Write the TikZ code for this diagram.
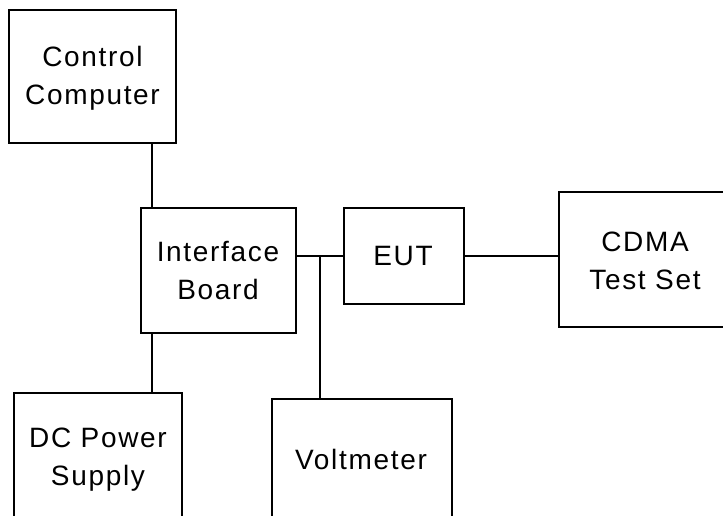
\documentclass[tikz,border=0pt]{standalone}
\usepackage{fontspec}
\setmainfont{Liberation Sans}[LetterSpace=6]
\begin{document}
\begin{tikzpicture}[x=1pt,y=-1pt,
  blk/.style={draw=black,line width=1.5pt,rectangle,inner sep=0pt},
  lbl/.style={align=center,inner sep=0pt,font=\fontsize{28}{38}\selectfont},
  wire/.style={draw=black,line width=1.5pt}]
\useasboundingbox (0,0) rectangle (723,515);
\clip (0,0) rectangle (723,515);
% boxes
\node[blk,minimum width=167pt,minimum height=133pt] (cc) at (92.5,76.5) {};
\node[blk,minimum width=155pt,minimum height=125pt] (ib) at (218.5,270.5) {};
\node[blk,minimum width=120pt,minimum height=96pt] (eut) at (404,256) {};
\node[rectangle,inner sep=0pt,minimum width=300pt,minimum height=135pt] (cdma) at (709,259.5) {};
\draw[wire] (cdma.north east) -- (cdma.north west) -- (cdma.south west) -- (cdma.south east);
\node[blk,minimum width=168pt,minimum height=170pt] (dc) at (98,478) {};
\node[blk,minimum width=180pt,minimum height=160pt] (vm) at (362,479) {};
% labels
\node[lbl] (tcc) at (92.5,78) {Control\\Computer};
\node[lbl] (tib) at (218,270) {Interface\\Board};
\node[lbl] (teut) at (403,256) {EUT};
\node[lbl] (tcdma) at (645,261) {CDMA\\Test Set};
\node[lbl] (tdc) at (98,459.5) {DC Power\\Supply};
\node[lbl] (tvm) at (361,459) {Voltmeter};
% connectors
\coordinate (j1) at (152,0);
\coordinate (j2) at (320,256);
\draw[wire] (cc.south -| j1) -- (ib.north -| j1);
\draw[wire] (ib.south -| j1) -- (dc.north -| j1);
\draw[wire] (ib.east |- eut.west) -- (eut.west);
\draw[wire] (j2) -- (vm.north -| j2);
\draw[wire] (eut.east) -- (cdma.west |- eut.east);
\end{tikzpicture}
\end{document}
